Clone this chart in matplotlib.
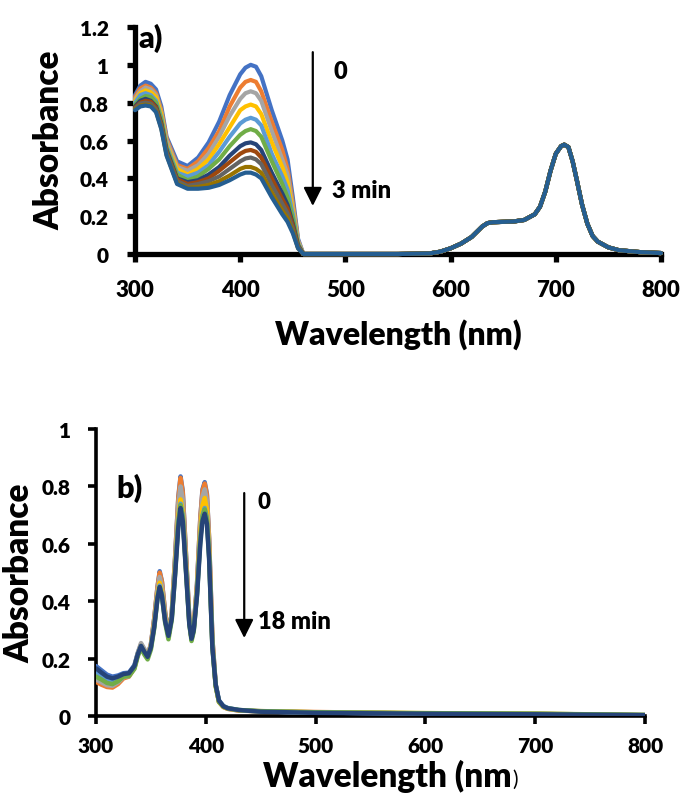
import numpy as np
import matplotlib
matplotlib.use('Agg')
import matplotlib.pyplot as plt
from matplotlib import font_manager

plt.rcParams['font.family'] = ['Lato', 'DejaVu Sans']
plt.rcParams['font.weight'] = 'heavy'

print(sorted({(f.name, f.weight) for f in font_manager.fontManager.ttflist
              if f.name in ('Lato', 'Open Sans', 'Noto Sans', 'Roboto', 'Inter')}))

W, H = 683, 804

# ---- panel a data: 0 -> 3 min ----
wl_a = [300, 305, 310, 315, 320, 325, 330, 340, 350, 360, 370, 380, 390,
        400, 405, 410, 415, 420, 430, 440, 445, 450, 455, 460]
a00 = [0.84, 0.89, 0.91, 0.90, 0.87, 0.78, 0.62, 0.49, 0.465, 0.51, 0.59, 0.70, 0.84,
       0.95, 0.985, 1.00, 0.99, 0.94, 0.76, 0.60, 0.50, 0.30, 0.08, 0.0]
a01 = [0.83, 0.875, 0.89, 0.88, 0.85, 0.76, 0.61, 0.47, 0.45, 0.49, 0.56, 0.65, 0.78,
       0.88, 0.91, 0.92, 0.91, 0.86, 0.70, 0.55, 0.45, 0.27, 0.07, 0.0]
a02 = [0.82, 0.86, 0.88, 0.87, 0.84, 0.75, 0.60, 0.46, 0.44, 0.47, 0.53, 0.62, 0.73,
       0.82, 0.85, 0.86, 0.85, 0.81, 0.65, 0.50, 0.42, 0.25, 0.07, 0.0]
a03 = [0.81, 0.85, 0.865, 0.855, 0.83, 0.74, 0.58, 0.45, 0.42, 0.45, 0.50, 0.58, 0.67,
       0.76, 0.78, 0.79, 0.78, 0.74, 0.59, 0.46, 0.38, 0.23, 0.06, 0.0]
a04 = [0.80, 0.84, 0.85, 0.84, 0.81, 0.72, 0.57, 0.43, 0.41, 0.43, 0.47, 0.54, 0.62,
       0.69, 0.71, 0.72, 0.71, 0.68, 0.53, 0.41, 0.34, 0.21, 0.055, 0.0]
a05 = [0.79, 0.82, 0.835, 0.83, 0.80, 0.71, 0.56, 0.42, 0.39, 0.41, 0.45, 0.50, 0.57,
       0.63, 0.65, 0.66, 0.65, 0.62, 0.49, 0.37, 0.30, 0.19, 0.05, 0.0]
a06 = [0.78, 0.81, 0.82, 0.81, 0.78, 0.69, 0.55, 0.40, 0.38, 0.39, 0.42, 0.46, 0.52,
       0.57, 0.585, 0.59, 0.58, 0.55, 0.43, 0.32, 0.26, 0.16, 0.045, 0.0]
a07 = [0.775, 0.80, 0.81, 0.805, 0.775, 0.685, 0.54, 0.395, 0.37, 0.38, 0.40, 0.44, 0.485,
       0.53, 0.545, 0.55, 0.54, 0.51, 0.40, 0.29, 0.24, 0.15, 0.04, 0.0]
a08 = [0.77, 0.795, 0.80, 0.795, 0.765, 0.675, 0.535, 0.385, 0.36, 0.37, 0.385, 0.41, 0.45,
       0.49, 0.505, 0.51, 0.50, 0.475, 0.365, 0.265, 0.215, 0.135, 0.035, 0.0]
a09 = [0.765, 0.785, 0.79, 0.785, 0.755, 0.665, 0.525, 0.375, 0.35, 0.355, 0.365, 0.385, 0.415,
       0.45, 0.46, 0.46, 0.45, 0.43, 0.325, 0.23, 0.19, 0.12, 0.03, 0.0]
a10 = [0.76, 0.78, 0.785, 0.78, 0.75, 0.66, 0.52, 0.37, 0.345, 0.345, 0.35, 0.365, 0.39,
       0.42, 0.43, 0.43, 0.42, 0.40, 0.30, 0.21, 0.17, 0.11, 0.03, 0.0]
# long-wavelength part, the same for every scan
wl_tail = [465, 470, 500, 550, 580, 590, 600, 610, 620, 630, 635, 640, 650, 660, 670,
           680, 685, 690, 695, 700, 705, 708, 712, 716, 720, 725, 730, 735, 740,
           750, 760, 780, 800]
abs_tail = [0.0, 0.0, 0.0, 0.0, 0.003, 0.012, 0.03, 0.055, 0.09, 0.145, 0.163, 0.168,
            0.17, 0.172, 0.18, 0.21, 0.25, 0.33, 0.44, 0.53, 0.57, 0.578, 0.565, 0.49,
            0.39, 0.26, 0.16, 0.095, 0.065, 0.035, 0.02, 0.01, 0.005]
spectra_a = [a00, a01, a02, a03, a04, a05, a06, a07, a08, a09, a10]
colors_a = ['#4472C4', '#ED7D31', '#A5A5A5', '#FFC000', '#5B9BD5', '#70AD47',
            '#264478', '#9E480E', '#636363', '#997300', '#255E91']

# ---- panel b data: 0 -> 18 min ----
wl_b = [300, 305, 310, 315, 320, 325, 330, 335, 338, 341, 344, 347, 350, 353, 356,
        358, 360, 363, 366, 369, 372, 375, 377, 379, 382, 385, 387, 389, 392, 395,
        397, 399, 401, 403, 406, 409, 412, 416, 420, 430, 450, 500, 600, 700, 800]
b0 = [0.175, 0.16, 0.145, 0.138, 0.142, 0.15, 0.152, 0.178, 0.22, 0.25, 0.23, 0.21,
      0.25, 0.34, 0.45, 0.505, 0.47, 0.36, 0.285, 0.36, 0.55, 0.765, 0.835, 0.785,
      0.56, 0.34, 0.275, 0.31, 0.46, 0.69, 0.79, 0.815, 0.775, 0.62, 0.27, 0.11,
      0.05, 0.034, 0.027, 0.021, 0.017, 0.013, 0.01, 0.008, 0.004]
b1 = [0.12, 0.11, 0.102, 0.10, 0.112, 0.132, 0.138, 0.168, 0.215, 0.25, 0.23, 0.21,
      0.25, 0.34, 0.45, 0.50, 0.47, 0.36, 0.28, 0.36, 0.55, 0.76, 0.83, 0.78,
      0.56, 0.34, 0.27, 0.31, 0.46, 0.69, 0.785, 0.81, 0.77, 0.62, 0.27, 0.11,
      0.05, 0.032, 0.026, 0.02, 0.018, 0.015, 0.01, 0.008, 0.004]
b2 = [0.128, 0.118, 0.108, 0.106, 0.118, 0.136, 0.14, 0.17, 0.22, 0.255, 0.235, 0.212,
      0.25, 0.33, 0.44, 0.485, 0.455, 0.35, 0.28, 0.355, 0.54, 0.74, 0.80, 0.755,
      0.54, 0.335, 0.27, 0.31, 0.45, 0.67, 0.765, 0.79, 0.75, 0.60, 0.26, 0.105,
      0.05, 0.033, 0.026, 0.02, 0.017, 0.013, 0.01, 0.009, 0.004]
b3 = [0.148, 0.135, 0.122, 0.118, 0.126, 0.14, 0.143, 0.17, 0.215, 0.245, 0.225, 0.207,
      0.245, 0.32, 0.425, 0.465, 0.435, 0.34, 0.278, 0.35, 0.515, 0.70, 0.755, 0.715,
      0.52, 0.33, 0.27, 0.305, 0.44, 0.645, 0.735, 0.76, 0.72, 0.58, 0.25, 0.105,
      0.05, 0.033, 0.027, 0.021, 0.017, 0.014, 0.011, 0.009, 0.004]
b4 = [0.155, 0.142, 0.128, 0.122, 0.13, 0.142, 0.145, 0.172, 0.215, 0.245, 0.223, 0.206,
      0.242, 0.315, 0.415, 0.455, 0.425, 0.335, 0.28, 0.345, 0.50, 0.68, 0.74, 0.70,
      0.51, 0.325, 0.27, 0.30, 0.43, 0.62, 0.70, 0.725, 0.69, 0.56, 0.245, 0.11,
      0.055, 0.036, 0.029, 0.022, 0.017, 0.013, 0.01, 0.008, 0.004]
b5 = [0.138, 0.128, 0.116, 0.112, 0.122, 0.138, 0.14, 0.165, 0.208, 0.238, 0.215, 0.198,
      0.232, 0.305, 0.41, 0.45, 0.42, 0.325, 0.268, 0.335, 0.495, 0.675, 0.735, 0.695,
      0.505, 0.32, 0.262, 0.295, 0.425, 0.615, 0.695, 0.72, 0.685, 0.555, 0.24, 0.105,
      0.05, 0.034, 0.028, 0.022, 0.018, 0.014, 0.011, 0.009, 0.005]
b6 = [0.167, 0.152, 0.138, 0.132, 0.138, 0.147, 0.15, 0.175, 0.215, 0.245, 0.225, 0.207,
      0.24, 0.31, 0.41, 0.45, 0.42, 0.33, 0.28, 0.34, 0.49, 0.66, 0.725, 0.68,
      0.50, 0.32, 0.27, 0.30, 0.42, 0.60, 0.68, 0.705, 0.67, 0.55, 0.24, 0.11,
      0.055, 0.035, 0.028, 0.022, 0.016, 0.012, 0.009, 0.007, 0.004]
spectra_b = [b0, b1, b2, b3, b4, b5, b6]
colors_b = ['#4472C4', '#ED7D31', '#A5A5A5', '#FFC000', '#5B9BD5', '#70AD47', '#264478']

xticks = [300, 400, 500, 600, 700, 800]
WT = 'heavy'


def fx(px):
    return px / W


def fy(py):
    return 1 - py / H


def styleAxes(ax, spineWidth, yticks, ylabels, ymax, xpad, ypad, fs):
    ax.set_xlim(300, 800)
    ax.set_ylim(0, ymax)
    ax.set_xticks(xticks)
    ax.set_xticklabels([str(t) for t in xticks], fontsize=fs[0], fontweight=WT)
    ax.set_yticks(yticks)
    ax.set_yticklabels(ylabels, fontsize=fs[1], fontweight=WT)
    for s in ['top', 'right']:
        ax.spines[s].set_visible(False)
    for s in ['left', 'bottom']:
        ax.spines[s].set_linewidth(spineWidth)
    ax.tick_params(axis='x', direction='out', length=6, width=spineWidth, pad=xpad)
    ax.tick_params(axis='y', direction='out', length=6, width=spineWidth, pad=ypad)


fig = plt.figure(figsize=(W / 100, H / 100), dpi=100)

# panel a
axA = fig.add_axes([fx(135), fy(255), fx(661) - fx(135), fy(28) - fy(255)])
for spec, c in zip(spectra_a, colors_a):
    axA.plot(np.concatenate([wl_a, wl_tail]), np.concatenate([spec, abs_tail]),
             color=c, lw=3.0, zorder=3, clip_on=False, solid_capstyle='round')
styleAxes(axA, 3.8, [0, 0.2, 0.4, 0.6, 0.8, 1.0, 1.2],
          ['0', '0.2', '0.4', '0.6', '0.8', '1', '1.2'], 1.2, 12, 13, (16, 15))
axA.annotate('', xy=(469, 0.254), xytext=(469, 1.067),
             arrowprops=dict(arrowstyle='-|>', color='black', lw=1.6,
                             mutation_scale=28, shrinkA=0, shrinkB=0))
axA.text(303, 1.146, 'a)', fontsize=22, fontweight=WT, va='center', ha='left')
axA.text(489, 0.967, '0', fontsize=17, fontweight=WT, va='center', ha='left')
axA.text(487, 0.338, '3 min', fontsize=17, fontweight=WT, va='center', ha='left')
fig.text(fx(49), fy(140), 'Absorbance', rotation=90, fontsize=24, fontweight=WT,
         ha='center', va='center')
fig.text(fx(398), fy(345), 'Wavelength (nm)', fontsize=23, fontweight=WT,
         ha='center', va='baseline')

# panel b
axB = fig.add_axes([fx(96), fy(717.3), fx(645) - fx(96), fy(430) - fy(717.3)])
for spec, c in zip(spectra_b, colors_b):
    axB.plot(wl_b, spec, color=c, lw=3.2, zorder=3, solid_capstyle='round')
styleAxes(axB, 2.6, [0, 0.2, 0.4, 0.6, 0.8, 1.0],
          ['0', '0.2', '0.4', '0.6', '0.8', '1'], 1.0, 8, 12, (15, 15))
axB.annotate('', xy=(435, 0.2725), xytext=(435, 0.777),
             arrowprops=dict(arrowstyle='-|>', color='black', lw=1.6,
                             mutation_scale=28, shrinkA=0, shrinkB=0))
axB.text(319, 0.795, 'b)', fontsize=22, fontweight=WT, va='center', ha='left')
axB.text(447.5, 0.746, '0', fontsize=16, fontweight=WT, va='center', ha='left')
axB.text(447.5, 0.332, '18 min', fontsize=17, fontweight=WT, va='center', ha='left')
fig.text(fx(19), fy(573), 'Absorbance', rotation=90, fontsize=24, fontweight=WT,
         ha='center', va='center')
# the closing bracket is smaller in the original
lab = fig.text(fx(263), fy(787), 'Wavelength (nm', fontsize=24, fontweight=WT,
               ha='left', va='baseline')
fig.canvas.draw()
bb = lab.get_window_extent(fig.canvas.get_renderer())
fig.text(bb.x1 / W + 0.001, fy(786), ')', fontsize=15, fontweight='normal',
         ha='left', va='baseline')

fig.savefig('out.png', dpi=100)
